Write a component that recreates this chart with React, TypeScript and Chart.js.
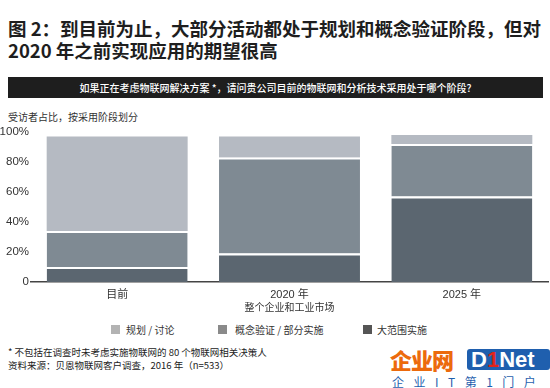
import React, { useEffect, useRef } from "react";
import { Chart, registerables } from "chart.js";

Chart.register(...registerables);

const categories = ["目前", "2020 年", "2025 年"];
const seriesNames = ["大范围实施", "概念验证 / 部分实施", "规划 / 讨论"];
const largeScale = [10, 19, 57];
const proofOfConcept = [24, 64, 35];
const planning = [63, 14, 6];
const yTicks = [0, 20, 40, 60, 80, 100];
const seriesColors = ["#5b6670", "#7f8a93", "#b5bac2"];
const legendColors = ["#b3b3b3", "#8a8a8a", "#555555"];

const CJK = '"Noto Sans CJK SC", sans-serif';
const LAT = '"Liberation Sans", "Noto Sans CJK SC", sans-serif';

export default function App() {
  const ref = useRef<HTMLCanvasElement | null>(null);

  useEffect(() => {
    if (!ref.current) return;
    const values = [largeScale, proofOfConcept, planning];
    const chart = new Chart(ref.current, {
      type: "bar",
      data: {
        labels: categories,
        datasets: values.map((v, i) => ({
          label: seriesNames[i],
          data: v,
          backgroundColor: seriesColors[i],
          borderColor: "#ffffff",
          borderWidth: i < 2 ? { top: 2, left: 0, right: 0, bottom: 0 } : 0,
          borderSkipped: false,
          barPercentage: 0.818,
          categoryPercentage: 1,
        })),
      },
      options: {
        animation: false,
        responsive: false,
        devicePixelRatio: 1,
        layout: { padding: { top: 12, right: 2, left: 0, bottom: 0 } },
        plugins: { legend: { display: false }, tooltip: { enabled: false } },
        scales: {
          x: {
            stacked: true,
            grid: { display: false, drawTicks: false },
            border: { display: true, color: "#444", width: 1.5 },
            ticks: { color: "#333", font: { family: LAT, size: 11 }, padding: 6 },
            title: {
              display: true,
              text: "整个企业和工业市场",
              color: "#333",
              font: { family: CJK, size: 10 },
              padding: { top: 0, bottom: 7 },
            },
            afterFit: (s: any) => {
              s.height = 38;
            },
          },
          y: {
            stacked: true,
            min: 0,
            max: 100,
            grid: { display: false, drawTicks: false },
            border: { display: false },
            afterBuildTicks: (s: any) => {
              s.ticks = yTicks.map((v) => ({ value: v }));
            },
            ticks: {
              color: "#333",
              font: { family: LAT, size: 11.5 },
              padding: 2,
              callback: (v: any) => (Number(v) === 0 ? "0" : v + "%"),
            },
            afterFit: (s: any) => {
              s.width = 31;
            },
          },
        },
      },
    });
    return () => chart.destroy();
  }, []);

  const legendItems = [
    { name: seriesNames[2], color: legendColors[0], x: 111, tx: 126 },
    { name: seriesNames[1], color: legendColors[1], x: 218, tx: 235 },
    { name: seriesNames[0], color: legendColors[2], x: 363, tx: 377 },
  ];

  return (
    <div
      style={{
        position: "absolute",
        left: 0,
        top: 0,
        width: 550,
        height: 388,
        background: "#fff",
        overflow: "hidden",
        fontFamily: CJK,
        color: "#222",
      }}
    >
      <div
        style={{
          position: "absolute",
          left: 8,
          top: 18,
          fontSize: 18.5,
          fontWeight: 700,
          lineHeight: "21.7px",
          whiteSpace: "nowrap",
          color: "#1e1e1e",
        }}
      >
        图 2：到目前为止，大部分活动都处于规划和概念验证阶段，但对
        <br />
        2020 年之前实现应用的期望很高
      </div>
      <div
        style={{
          position: "absolute",
          left: 8,
          top: 77,
          width: 535,
          height: 21,
          background: "#1e1e1e",
          color: "#fff",
          fontSize: 10,
          fontWeight: 500,
          lineHeight: "21px",
          textAlign: "center",
          whiteSpace: "nowrap",
        }}
      >
        如果正在考虑物联网解决方案 *，请问贵公司目前的物联网和分析技术采用处于哪个阶段?
      </div>
      <div
        style={{
          position: "absolute",
          left: 8,
          top: 110,
          fontSize: 10,
          lineHeight: "14px",
          color: "#333",
          whiteSpace: "nowrap",
        }}
      >
        受访者占比，按采用阶段划分
      </div>
      <canvas
        ref={ref}
        width={550}
        height={200}
        style={{ position: "absolute", left: 0, top: 120, width: 550, height: 200 }}
      />
      {legendItems.map((it) => (
        <React.Fragment key={it.name}>
          <div
            style={{
              position: "absolute",
              left: it.x,
              top: 325,
              width: 9,
              height: 9,
              background: it.color,
            }}
          />
          <div
            style={{
              position: "absolute",
              left: it.tx,
              top: 322,
              fontSize: 10,
              lineHeight: "15px",
              color: "#333",
              whiteSpace: "nowrap",
            }}
          >
            {it.name}
          </div>
        </React.Fragment>
      ))}
      <div
        style={{
          position: "absolute",
          left: 8,
          top: 346,
          fontSize: 9.5,
          lineHeight: "13.4px",
          color: "#222",
          whiteSpace: "nowrap",
        }}
      >
        * 不包括在调查时未考虑实施物联网的 80 个物联网相关决策人
        <br />
        资料来源：贝恩物联网客户调查，2016 年（n=533）
      </div>
      <div
        style={{
          position: "absolute",
          left: 390,
          top: 349,
          height: 21,
          display: "flex",
          alignItems: "stretch",
          whiteSpace: "nowrap",
        }}
      >
        <span
          style={{
            color: "#ec6a0c",
            fontWeight: 900,
            fontSize: 22,
            lineHeight: "21px",
            width: 77,
            letterSpacing: -1,
          }}
        >
          企业网
        </span>
        <span
          style={{
            background: "#1f5fae",
            color: "#fff",
            fontFamily: LAT,
            fontWeight: 700,
            fontSize: 22,
            lineHeight: "21px",
            padding: "0 4px",
            width: 75,
            borderRadius: 3,
          }}
        >
          D<span style={{ color: "#e0241b" }}>1</span>Net
        </span>
      </div>
      <div
        style={{
          position: "absolute",
          left: 392,
          top: 374,
          fontSize: 12,
          lineHeight: "15px",
          color: "#1f5fae",
          letterSpacing: 9.5,
          whiteSpace: "nowrap",
        }}
      >
        企业IT第1门户
      </div>
    </div>
  );
}
